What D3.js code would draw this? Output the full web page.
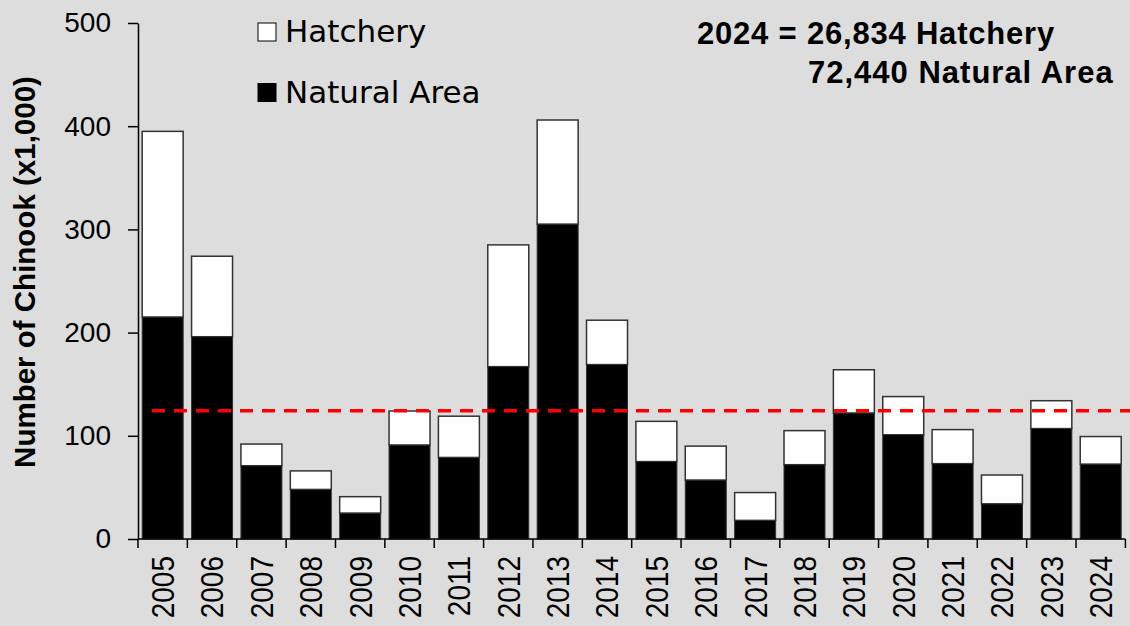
<!DOCTYPE html>
<html lang="en">
<head>
    <meta charset="UTF-8">
    <title>Chinook returns 2005-2024</title>
    <script src="https://d3js.org/d3.v7.min.js"></script>
    <style>
        body { margin: 0; background: #dddddd; }
        svg { display: block; background: #dddddd; }
        .tick text { font-family: "Liberation Sans", Arial, sans-serif; font-size: 28px; fill: #000; }
        .legend text { font-family: "DejaVu Sans", sans-serif; font-size: 31px; }
        .note { font-family: "Liberation Sans", Arial, sans-serif; font-size: 31px; font-weight: bold; letter-spacing: 0.8px; }
    </style>
</head>
<body>
<svg width="1130" height="626"></svg>
<script>
    // data, in thousands of fish
    const years = ["2005","2006","2007","2008","2009","2010","2011","2012","2013","2014",
                   "2015","2016","2017","2018","2019","2020","2021","2022","2023","2024"];
    const natural = [215, 196, 71, 48, 25, 91, 79, 167, 305, 169,
                     75, 57, 18, 72, 122, 101, 73, 34, 107, 72.44];
    const hatchery = [180, 78, 21, 18, 16, 33, 40, 118, 101, 43,
                      39, 33, 27, 33, 42, 37, 33, 28, 27, 26.834];
    const yTicks = [0, 100, 200, 300, 400, 500];
    const average = 124.3;

    const svg = d3.select("svg");

    const x = d3.scaleBand()
        .domain(years)
        .range([138, 1125.4])
        .paddingInner(0.17)
        .paddingOuter(0.085);

    const y = d3.scaleLinear()
        .domain([0, 500])
        .range([539, 23]);

    const rows = years.map((yr, i) => ({year: yr, nat: natural[i], hat: hatchery[i]}));

    // hatchery part (white) stacked on natural part (black)
    svg.append("g").selectAll("rect")
        .data(rows)
        .join("rect")
        .attr("x", d => x(d.year))
        .attr("width", x.bandwidth())
        .attr("y", d => y(d.nat + d.hat))
        .attr("height", d => y(d.nat) - y(d.nat + d.hat))
        .attr("fill", "#fff")
        .attr("stroke", "#333")
        .attr("stroke-width", 1.5);

    svg.append("g").selectAll("rect")
        .data(rows)
        .join("rect")
        .attr("x", d => x(d.year))
        .attr("width", x.bandwidth())
        .attr("y", d => y(d.nat))
        .attr("height", d => y(0) - y(d.nat))
        .attr("fill", "#000")
        .attr("stroke", "#333")
        .attr("stroke-width", 1);

    // y axis
    const yAxis = svg.append("g")
        .attr("transform", "translate(138,0)")
        .call(d3.axisLeft(y).tickValues(yTicks).tickSize(10).tickPadding(17).tickSizeOuter(0));
    yAxis.select(".domain").attr("stroke", "#000").attr("stroke-width", 1.5);
    yAxis.selectAll(".tick line").attr("stroke", "#000").attr("stroke-width", 1.5);

    // x axis labels (glyphs a little wider than the y ones in the original)
    const xAxis = svg.append("g")
        .attr("transform", "translate(0,539)")
        .call(d3.axisBottom(x).tickSize(0).tickSizeOuter(0));
    xAxis.select(".domain").remove();
    xAxis.selectAll(".tick text")
        .attr("transform", "rotate(-90) scale(1,1.13)")
        .attr("text-anchor", "end")
        .attr("x", -17)
        .attr("y", 0)
        .attr("dy", "0.36em");

    // x axis line and ticks at the band edges
    const gap = x.step() - x.bandwidth();
    const edges = years.map(d => x(d) - gap / 2).concat([x(years[years.length - 1]) + x.bandwidth() + gap / 2]);
    svg.append("line")
        .attr("x1", edges[0]).attr("x2", edges[edges.length - 1])
        .attr("y1", y(0)).attr("y2", y(0))
        .attr("stroke", "#000").attr("stroke-width", 1.5);
    svg.append("g").selectAll("line")
        .data(edges)
        .join("line")
        .attr("x1", d => d).attr("x2", d => d)
        .attr("y1", y(0)).attr("y2", y(0) + 9)
        .attr("stroke", "#000").attr("stroke-width", 1.5);

    // average line
    svg.append("line")
        .attr("x1", 152).attr("x2", 1130)
        .attr("y1", y(average)).attr("y2", y(average))
        .attr("stroke", "#ff0000")
        .attr("stroke-width", 3.5)
        .attr("stroke-dasharray", "13,9");

    // y label
    svg.append("text")
        .attr("transform", "translate(35,272) rotate(-90)")
        .attr("text-anchor", "middle")
        .style("font-family", "'Liberation Sans', Arial, sans-serif")
        .style("font-size", "29.5px")
        .style("font-weight", "bold")
        .text("Number of Chinook (x1,000)");

    // legend
    const legend = svg.append("g").attr("class", "legend");
    const items = [{label: "Hatchery", fill: "#fff", yy: 23}, {label: "Natural Area", fill: "#000", yy: 83.5}];
    legend.selectAll("rect")
        .data(items)
        .join("rect")
        .attr("x", 258).attr("y", d => d.yy)
        .attr("width", 18).attr("height", 18)
        .attr("fill", d => d.fill)
        .attr("stroke", "#000").attr("stroke-width", 1);
    legend.selectAll("text")
        .data(items)
        .join("text")
        .attr("x", 285).attr("y", d => d.yy + 19)
        .text(d => d.label);

    // note for latest year
    svg.append("text").attr("class", "note").attr("x", 697).attr("y", 44)
        .text("2024 = 26,834 Hatchery");
    svg.append("text").attr("class", "note").attr("x", 808).attr("y", 82.5)
        .style("letter-spacing", "1px")
        .text("72,440 Natural Area");
</script>
</body>
</html>
